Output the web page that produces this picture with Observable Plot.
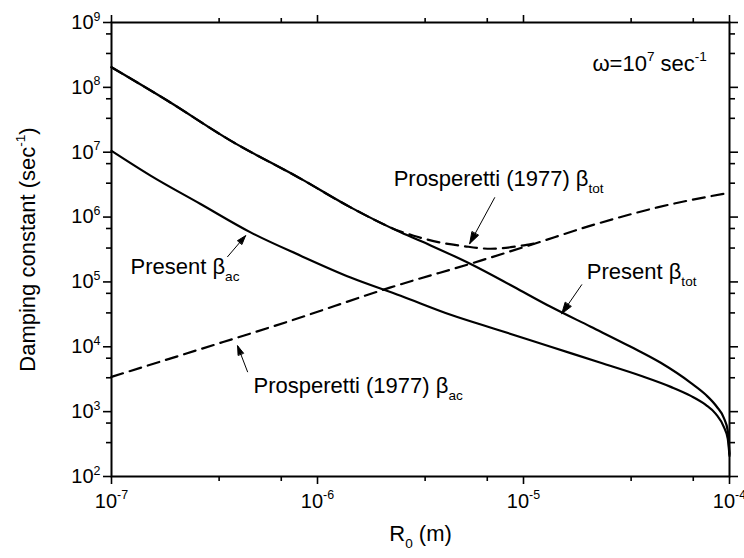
<!DOCTYPE html>
<html><head><meta charset="utf-8">
<script src="https://cdn.jsdelivr.net/npm/d3@7"></script>
<script src="https://cdn.jsdelivr.net/npm/@observablehq/plot@0.6"></script>
<style>html,body{margin:0;padding:0;background:#fff;}#chart{width:744px;height:558px;}</style>
</head><body><div id="chart"></div>
<script>
// ---- Data ----
// Present beta_tot (solid, upper)
const presentTotR    = [1e-7, 1.864e-7, 3.784e-7, 8.28e-7, 1.448e-6, 2.533e-6, 3.541e-6, 5.54e-6, 8.96e-6, 1.355e-5, 2.12e-5, 3.317e-5, 4.637e-5, 6.486e-5, 7.672e-5, 8.675e-5, 9.382e-5, 9.81e-5, 1e-4];
const presentTotBeta = [2.04e8, 6.26e7, 1.51e7, 3.91e6, 1.41e6, 5.81e5, 3.66e5, 1.89e5, 8.43e4, 4.14e4, 2.04e4, 1.0e4, 5.66e3, 2.78e3, 1.82e3, 1.19e3, 802, 505, 223];
// Present beta_ac (solid, lower)
const presentAcR     = [1e-7, 1.547e-7, 2.705e-7, 4.732e-7, 8.277e-7, 1.448e-6, 2.533e-6, 4.43e-6, 7.75e-6, 1.355e-5, 2.37e-5, 3.709e-5, 5.186e-5, 6.486e-5, 7.672e-5, 8.58e-5, 9.382e-5, 9.81e-5, 1e-4];
const presentAcBeta  = [1.05e7, 4.36e6, 1.59e6, 5.81e5, 2.54e5, 1.17e5, 6.12e4, 3.12e4, 1.77e4, 1.0e4, 5.66e3, 3.57e3, 2.41e3, 1.75e3, 1.27e3, 925, 583, 380, 208];
// Prosperetti (1977) beta_tot (dashed)
const prospTotR      = [1e-7, 1.864e-7, 3.784e-7, 8.28e-7, 1.448e-6, 2.533e-6, 2.929e-6, 3.961e-6, 5.123e-6, 6.93e-6, 8.665e-6, 1.121e-5];
const prospTotBeta   = [2.04e8, 6.26e7, 1.51e7, 3.91e6, 1.41e6, 6.0e5, 5.16e5, 4.03e5, 3.56e5, 3.25e5, 3.43e5, 3.89e5];
// Prosperetti (1977) beta_ac (dashed)
const prospAcR       = [1e-7, 2.705e-7, 7.403e-7, 2.265e-6, 6.196e-6, 1.121e-5, 2.12e-5, 4.47e-5, 1e-4];
const prospAcBeta    = [3.44e3, 9.21e3, 2.52e4, 8.23e4, 2.13e5, 3.85e5, 7.37e5, 1.41e6, 2.38e6];

// Ticks
const xMajor = [1e-7, 1e-6, 1e-5, 1e-4];
const xMinor = [3.33e-7, 6.67e-7, 3.33e-6, 6.67e-6, 3.33e-5, 6.67e-5];
const yMajor = [1e2, 1e3, 1e4, 1e5, 1e6, 1e7, 1e8, 1e9];
const yMinor = [3.33e2, 6.67e2, 3.33e3, 6.67e3, 3.33e4, 6.67e4, 3.33e5, 6.67e5, 3.33e6, 6.67e6, 3.33e7, 6.67e7, 3.33e8, 6.67e8];

// Annotations
const annoText = ["Prosperetti (1977) \u03b2_{tot}", "Present \u03b2_{tot}", "Present \u03b2_{ac}", "Prosperetti (1977) \u03b2_{ac}", "\u03c9=10^{7} sec^{-1}"];
const annoR    = [2.342e-6, 2.028e-5, 1.237e-7, 4.893e-7, 2.16e-5];
const annoBeta = [3.92e6, 1.436e5, 1.718e5, 2.5e3, 2.33e8];

// Arrows (tail -> head)
const arrowR1 = [7.245e-6, 1.917e-5, 3.66e-7, 4.576e-7];
const arrowB1 = [1.993e6, 9.05e4, 2.448e5, 4.114e3];
const arrowR2 = [5.478e-6, 1.533e-5, 4.475e-7, 4.093e-7];
const arrowB2 = [3.886e5, 3.23e4, 5.164e5, 1.036e4];

const yLabel = "Damping constant (sec^{-1})";
const xLabel = "R_{0} (m)";

// ---- tables ----
const tbl = (R, B) => R.map((r, i) => ({r, b: B[i]}));
const presentTot = tbl(presentTotR, presentTotBeta);
const presentAc = tbl(presentAcR, presentAcBeta);
const prospTot = tbl(prospTotR, prospTotBeta);
const prospAc = tbl(prospAcR, prospAcBeta);
const annos = annoText.map((t, i) => ({t, r: annoR[i], b: annoBeta[i]}));
const arrows = arrowR1.map((r1, i) => ({r1, b1: arrowB1[i], r2: arrowR2[i], b2: arrowB2[i]}));

const fmt = d => `10^{${Math.round(Math.log10(d))}}`;
const none = () => "";

const chart = Plot.plot({
  width: 744, height: 558,
  marginTop: 22, marginRight: 15, marginBottom: 82, marginLeft: 111,
  style: {fontFamily: "'Liberation Sans', Arial, sans-serif", fontSize: "20px", background: "#fff", color: "#000", overflow: "visible"},
  x: {type: "log", domain: [1e-7, 1e-4], label: null},
  y: {type: "log", domain: [1e2, 1e9], label: null},
  marks: [
    Plot.axisX(xMajor, {anchor: "bottom", tickSize: 8, tickPadding: 9, tickFormat: fmt, fontSize: 20, strokeWidth: 1.6, label: null}),
    Plot.axisX(xMinor, {anchor: "bottom", tickSize: 5, tickFormat: none, strokeWidth: 1.6, label: null}),
    Plot.axisX(xMajor, {anchor: "top", tickSize: 8, tickFormat: none, strokeWidth: 1.6, label: null}),
    Plot.axisX(xMinor, {anchor: "top", tickSize: 5, tickFormat: none, strokeWidth: 1.6, label: null}),
    Plot.axisY(yMajor, {anchor: "left", tickSize: 8, tickPadding: 3, tickFormat: fmt, fontSize: 20, strokeWidth: 1.6, label: null}),
    Plot.axisY(yMinor, {anchor: "left", tickSize: 5, tickFormat: none, strokeWidth: 1.6, label: null}),
    Plot.axisY(yMajor, {anchor: "right", tickSize: 8, tickFormat: none, strokeWidth: 1.6, label: null}),
    Plot.axisY(yMinor, {anchor: "right", tickSize: 5, tickFormat: none, strokeWidth: 1.6, label: null}),
    Plot.frame({stroke: "#000", strokeWidth: 2}),
    Plot.line(prospAc, {x: "r", y: "b", stroke: "#000", strokeWidth: 2.2, strokeDasharray: "12,7", curve: "monotone-x"}),
    Plot.line(prospTot, {x: "r", y: "b", stroke: "#000", strokeWidth: 2.2, strokeDasharray: "12,7", curve: "monotone-x"}),
    Plot.line(presentTot, {x: "r", y: "b", stroke: "#000", strokeWidth: 2.2, curve: "monotone-x"}),
    Plot.line(presentAc, {x: "r", y: "b", stroke: "#000", strokeWidth: 2.2, curve: "monotone-x"}),
    Plot.arrow(arrows, {x1: "r1", y1: "b1", x2: "r2", y2: "b2", stroke: "#000", strokeWidth: 1, headLength: 18, headAngle: 36}),
    Plot.text(annos, {x: "r", y: "b", text: "t", textAnchor: "start", fontSize: 22}),
    Plot.text([yLabel], {text: d => d, frameAnchor: "left", textAnchor: "middle", rotate: -90, dx: -84, fontSize: 22}),
    Plot.text([xLabel], {text: d => d, frameAnchor: "bottom", textAnchor: "middle", dy: 64, fontSize: 22})
  ]
});
document.getElementById("chart").appendChild(chart);

// rich text: ^{..} superscript, _{..} subscript
(function richify(svg) {
  const NS = "http://www.w3.org/2000/svg";
  svg.querySelectorAll("text").forEach(el => {
    const s = el.textContent;
    if (!/[\^_]\{/.test(s)) return;
    const fs = parseFloat(getComputedStyle(el).fontSize) || 20;
    el.textContent = "";
    const re = /([\^_])\{([^}]*)\}/g;
    let last = 0, m, cur = 0;
    const add = (txt, off, small) => {
      const t = document.createElementNS(NS, "tspan");
      t.textContent = txt;
      const d = off - cur;
      if (d !== 0) t.setAttribute("dy", d.toFixed(2));
      if (small) t.setAttribute("font-size", (fs * small).toFixed(1) + "px");
      cur = off;
      el.appendChild(t);
    };
    while ((m = re.exec(s))) {
      if (m.index > last) add(s.slice(last, m.index), 0, 0);
      if (m[1] === "^") add(m[2], -0.42 * fs, 0.62);
      else add(m[2], 0.32 * fs, 0.62);
      last = re.lastIndex;
    }
    if (last < s.length) add(s.slice(last), 0, 0);
  });
  // filled arrow heads
  svg.querySelectorAll('g[aria-label="arrow"] path').forEach(p => {
    p.setAttribute("d", p.getAttribute("d") + "Z");
    p.setAttribute("fill", "#000");
  });
})(chart);
</script>
</body></html>
